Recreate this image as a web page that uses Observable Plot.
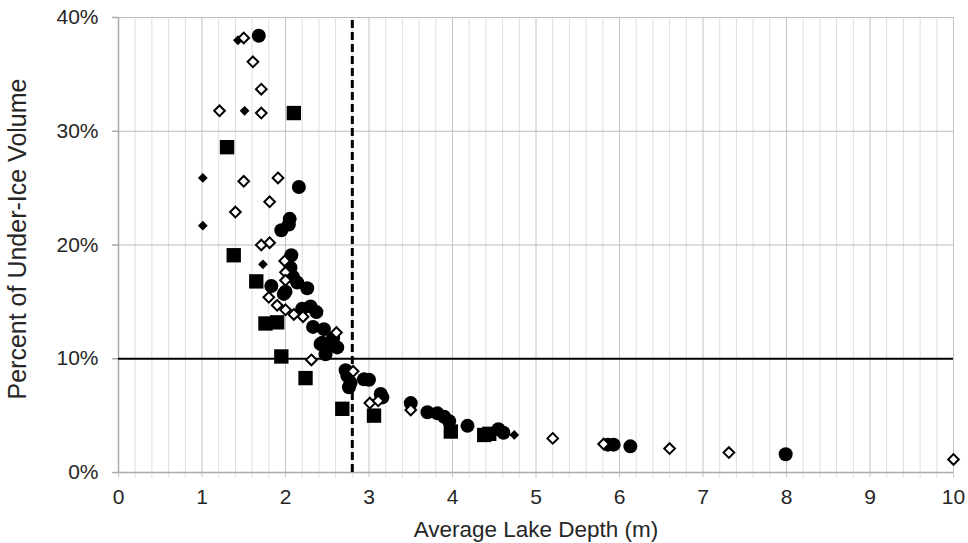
<!DOCTYPE html>
<html>
<head>
<meta charset="utf-8">
<script src="https://cdn.jsdelivr.net/npm/d3@7"></script>
<script src="https://cdn.jsdelivr.net/npm/@observablehq/plot@0.6"></script>
<style>
  html, body { margin: 0; padding: 0; background: #ffffff; }
  #chart svg { display: block; }
</style>
</head>
<body>
<div id="chart"></div>
<script>
// Average lake depth (m) and percent of under-ice volume (%)
const squareX = [2.10, 1.30, 1.38, 1.65, 1.76, 1.90, 1.95, 2.24, 2.68, 3.06, 3.98, 4.38, 4.44];
const squareY = [31.6, 28.6, 19.1, 16.8, 13.1, 13.2, 10.2, 8.3, 5.6, 5.0, 3.6, 3.3, 3.4];

const circleX = [1.68, 2.16, 2.05, 2.04, 1.95, 2.07, 2.06, 2.09, 2.14, 1.83, 2.26, 1.98, 2.00, 2.30, 2.20, 2.37, 2.33, 2.46, 2.57, 2.44, 2.50, 2.62, 2.48, 2.42, 2.72, 2.74, 2.78, 2.76, 2.94, 3.00, 3.14, 3.16, 3.50, 3.70, 3.82, 3.90, 3.96, 4.18, 4.55, 4.61, 5.86, 5.93, 6.13, 7.99];
const circleY = [38.4, 25.1, 22.3, 21.8, 21.3, 19.1, 18.0, 17.2, 16.7, 16.4, 16.2, 15.7, 15.9, 14.6, 14.4, 14.1, 12.8, 12.6, 11.8, 11.4, 11.0, 11.0, 10.4, 11.3, 9.0, 8.5, 7.9, 7.5, 8.2, 8.15, 6.9, 6.6, 6.1, 5.3, 5.2, 4.9, 4.5, 4.1, 3.8, 3.5, 2.45, 2.45, 2.3, 1.6];

const filledDiamondX = [1.43, 1.51, 1.01, 1.01, 1.73, 4.74];
const filledDiamondY = [38.0, 31.8, 25.9, 21.7, 18.3, 3.3];

const openDiamondX = [1.50, 1.61, 1.71, 1.21, 1.71, 1.50, 1.91, 1.81, 1.40, 1.71, 1.81, 1.99, 2.00, 2.00, 1.80, 1.90, 2.00, 2.10, 2.21, 2.61, 2.31, 2.81, 3.01, 3.11, 3.50, 5.20, 5.81, 6.60, 7.31, 10.0];
const openDiamondY = [38.2, 36.1, 33.7, 31.8, 31.6, 25.6, 25.9, 23.8, 22.9, 20.0, 20.2, 18.6, 17.6, 16.9, 15.4, 14.7, 14.3, 13.9, 13.7, 12.3, 9.9, 8.9, 6.1, 6.3, 5.5, 3.0, 2.5, 2.1, 1.75, 1.15];

const xTicks = [0, 1, 2, 3, 4, 5, 6, 7, 8, 9, 10];
const yTicks = [0, 10, 20, 30, 40];
const thresholdDepth = 2.8;
const thresholdPercent = 10;
const xTitle = "Average Lake Depth (m)";
const yTitle = "Percent of Under-Ice Volume";

const toRows = (xs, ys) => xs.map((x, i) => ({x, y: ys[i]}));
const squares = toRows(squareX, squareY);
const circles = toRows(circleX, circleY);
const filledDiamonds = toRows(filledDiamondX, filledDiamondY);
const openDiamonds = toRows(openDiamondX, openDiamondY);

const minorTicks = d3.range(0, 50).map(i => +(i * 0.2).toFixed(1)).filter(v => v % 1 !== 0);

const W = 968, H = 543, mL = 118, mR = 15, mT = 17, mB = 71;
const textColor = "#262626";

const chart = Plot.plot({
  width: W,
  height: H,
  marginLeft: mL,
  marginRight: mR,
  marginTop: mT,
  marginBottom: mB,
  style: {fontFamily: "'Liberation Sans', Arial, sans-serif", fontSize: "21px", color: textColor, background: "#ffffff"},
  x: {domain: [0, 10], axis: null},
  y: {domain: [0, 40], axis: null},
  marks: [
    Plot.ruleX(minorTicks, {y1: -0.45, y2: 40, stroke: "#dedede", strokeWidth: 1}),
    Plot.ruleX(xTicks, {y1: -0.45, y2: 40, stroke: "#c4c4c4", strokeWidth: 1}),
    Plot.ruleY(yTicks.filter(d => d > 0 && d !== thresholdPercent), {x1: 0, x2: 10, stroke: "#bdbdbd", strokeWidth: 1.2}),
    Plot.ruleY(yTicks, {x1: -0.07, x2: 0, stroke: "#aaaaaa", strokeWidth: 1.5}),
    Plot.ruleY([0], {x1: 0, x2: 10, stroke: "#aaaaaa", strokeWidth: 1.5}),
    Plot.ruleX([0], {y1: 0, y2: 40, stroke: "#aaaaaa", strokeWidth: 1.5}),
    Plot.text(xTicks, {x: d => d, y: 0, dy: 25, text: d => String(d), fontSize: 21, fill: textColor, textAnchor: "middle", lineAnchor: "middle"}),
    Plot.text(yTicks, {x: 0, y: d => d, dx: -20, text: d => d + "%", fontSize: 21, fill: textColor, textAnchor: "end", lineAnchor: "middle"}),
    Plot.ruleY([thresholdPercent], {x1: 0, x2: 10, stroke: "#000", strokeWidth: 2}),
    Plot.ruleX([thresholdDepth], {y1: 0, y2: 40, stroke: "#000", strokeWidth: 3, strokeDasharray: "8,4"}),
    Plot.dot(squares, {x: "x", y: "y", symbol: "square", r: 8.1, fill: "#000", stroke: "none"}),
    Plot.dot(circles, {x: "x", y: "y", symbol: "circle", r: 7, fill: "#000", stroke: "none"}),
    Plot.dot(filledDiamonds, {x: "x", y: "y", symbol: "diamond2", r: 4.4, fill: "#000", stroke: "none"}),
    Plot.dot(openDiamonds, {x: "x", y: "y", symbol: "diamond2", r: 4.8, fill: "#fff", stroke: "#000", strokeWidth: 2})
  ]
});

const svg = d3.select(chart);
svg.append("text")
  .attr("x", 536)
  .attr("y", 537)
  .attr("text-anchor", "middle")
  .attr("fill", textColor)
  .style("font-size", "22.5px")
  .text(xTitle);
svg.append("text")
  .attr("transform", `translate(${26},${239}) rotate(-90)`)
  .attr("text-anchor", "middle")
  .attr("fill", textColor)
  .style("font-size", "25px")
  .text(yTitle);

document.getElementById("chart").appendChild(chart);
</script>
</body>
</html>
